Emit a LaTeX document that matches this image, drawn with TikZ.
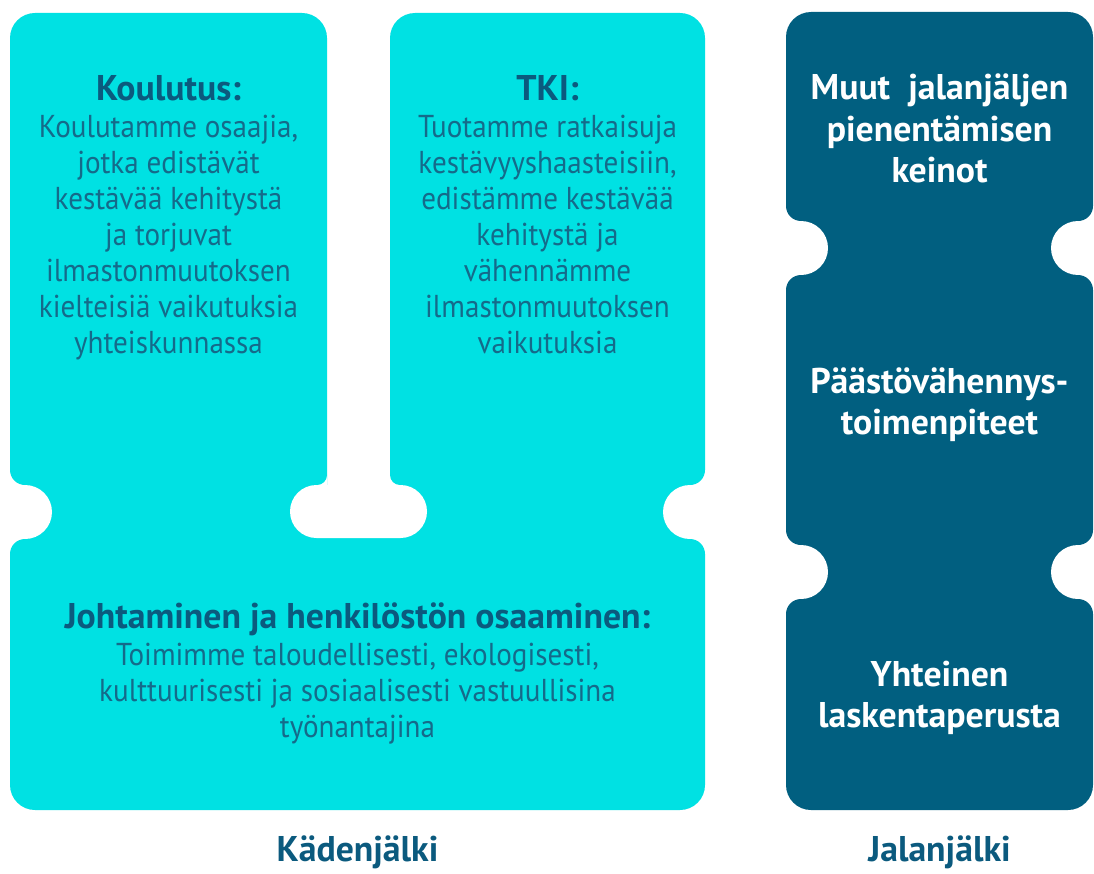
\documentclass[tikz,border=0pt]{standalone}
\usepackage{fontspec}
\setmainfont{PT Sans}
\newfontfamily\leipa[FakeStretch=0.92]{PT Sans}
\usetikzlibrary{positioning}

\definecolor{kasi}{HTML}{00E1E3}
\definecolor{jalka}{HTML}{015F80}
\definecolor{muste}{HTML}{0B5A7E}
\definecolor{mustevaalea}{HTML}{156A8A}

\newcommand{\otsikko}[1]{{\rmfamily\bfseries\fontsize{30.5}{35}\selectfont\color{muste}#1}\\[1pt]}
\newcommand{\lovi}[4]{%
  \fill[white] (#1-2*#3,#2-42) rectangle (#1+15*#3,#2+42);
  \fill[white] (#1+15*#3,#2) circle[radius=27];
  \fill[#4] (#1+15*#3,#2-42) circle[radius=15];
  \fill[#4] (#1+15*#3,#2+42) circle[radius=15];
}

\tikzset{
  teksti/.style={anchor=north, align=center, inner sep=0pt, text=mustevaalea,
    font=\leipa\fontsize{27}{30.7}\selectfont},
  valkoinen/.style={anchor=north, align=center, inner sep=0pt, text=white,
    font=\bfseries\fontsize{30.5}{35}\selectfont},
  alaotsikko/.style={inner sep=0pt, text=muste,
    font=\bfseries\fontsize{30.5}{35}\selectfont}
}

\begin{document}
\begin{tikzpicture}[x=0.03cm,y=-0.03cm]
\useasboundingbox (0,0) rectangle (1094,874);
\fill[kasi, rounded corners=0.75cm] (10,13) -- (327,13) -- (327,520) -- (390,520) -- (390,13) -- (705,13) -- (705,810) -- (10,810) -- cycle;
\fill[white, rounded corners=0.795cm] (290,485) rectangle (427,538);
\fill[white] (317,475) rectangle (327,485);
\fill[white] (390,475) rectangle (400,485);
\fill[kasi] (317,475) circle[radius=10];
\fill[kasi] (400,475) circle[radius=10];
\lovi{10}{512}{1}{kasi}
\lovi{705}{512}{-1}{kasi}

\fill[jalka, rounded corners=0.75cm] (786,12) rectangle (1093,810);
\lovi{786}{248}{1}{jalka}
\lovi{786}{572}{1}{jalka}
\lovi{1093}{248}{-1}{jalka}
\lovi{1093}{572}{-1}{jalka}

\node[teksti] (koulutus) at (168.5,75) {\otsikko{Koulutus:}Koulutamme osaajia,\\ jotka edistävät\\ kestävää kehitystä\\ ja torjuvat\\ ilmastonmuutoksen\\ kielteisiä vaikutuksia\\ yhteiskunnassa};
\node[teksti] (tki) at (547.5,75) {\otsikko{TKI:}Tuotamme ratkaisuja\\ kestävyyshaasteisiin,\\ edistämme kestävää\\ kehitystä ja\\ vähennämme\\ ilmastonmuutoksen\\ vaikutuksia};
\node[teksti] (johtaminen) at (357.5,602) {\otsikko{Johtaminen ja henkilöstön osaaminen:}Toimimme taloudellisesti, ekologisesti,\\ kulttuurisesti ja sosiaalisesti vastuullisina\\ työnantajina};

\node[valkoinen] (muut) at (939.5,74) {Muut\ \ jalanjäljen\\ pienentämisen\\ keinot};
\node[valkoinen] (paasto) at (939.5,367) {Päästövähennys-\\ toimenpiteet};
\node[valkoinen] (yhteinen) at (939.5,661) {Yhteinen\\ laskentaperusta};

\node[alaotsikko] (kaden) at (357.5,852) {Kädenjälki};
\node[alaotsikko] (jalan) at (939.5,852) {Jalanjälki};
\end{tikzpicture}
\end{document}
